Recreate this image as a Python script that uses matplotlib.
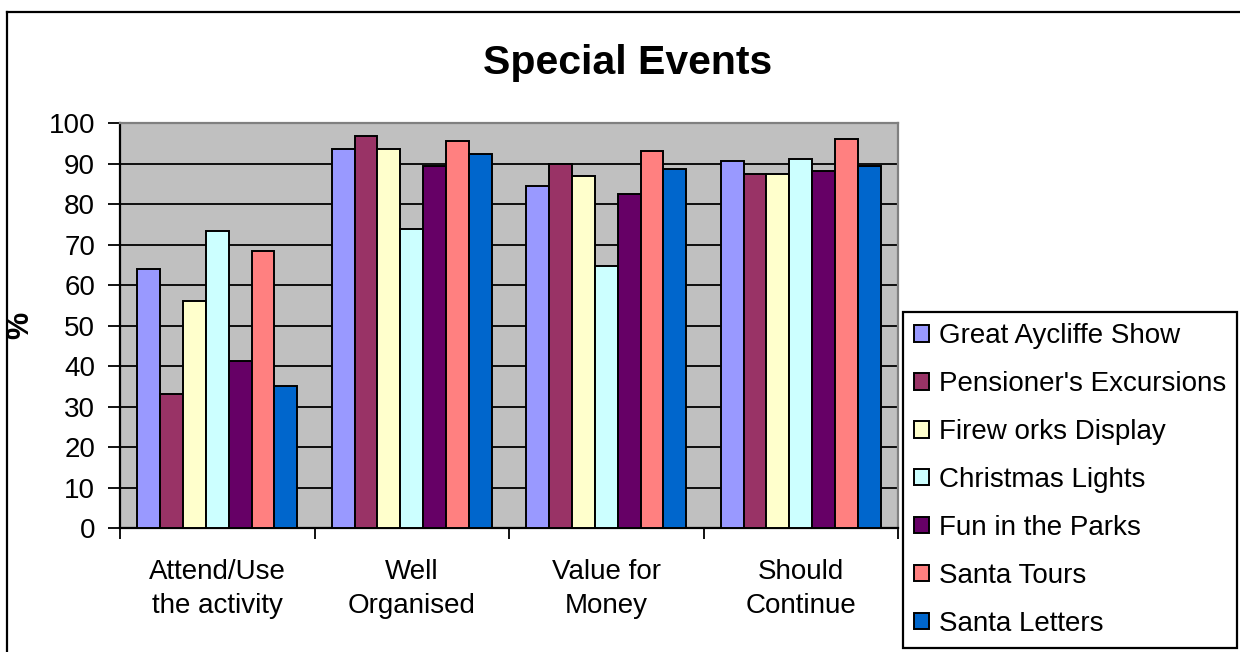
import matplotlib
matplotlib.use("Agg")
import matplotlib.pyplot as plt
import numpy as np
from matplotlib.lines import Line2D

plt.rcParams["font.family"] = ["Liberation Sans", "DejaVu Sans"]

categories = ["Attend/Use\nthe activity", "Well\nOrganised", "Value for\nMoney", "Should\nContinue"]
events = [
    "Great Aycliffe Show",
    "Pensioner's Excursions",
    "Firew orks Display",
    "Christmas Lights",
    "Fun in the Parks",
    "Santa Tours",
    "Santa Letters",
]
great_aycliffe = [64, 93.6, 84.4, 90.7]
pensioners = [33, 96.9, 90.0, 87.5]
fireworks = [56, 93.6, 86.9, 87.5]
christmas_lights = [73.4, 74.0, 64.7, 91.2]
fun_in_parks = [41.2, 89.5, 82.6, 88.1]
santa_tours = [68.5, 95.6, 93.1, 96.2]
santa_letters = [35, 92.5, 88.7, 89.4]
series = [great_aycliffe, pensioners, fireworks, christmas_lights,
          fun_in_parks, santa_tours, santa_letters]
colors = ["#9999FF", "#993366", "#FFFFCC", "#CCFFFF", "#660066", "#FF8080", "#0066CC"]

W, H = 1240, 652
fig = plt.figure(figsize=(W / 100, H / 100), dpi=100)

# chart-area frame (runs off the right and bottom edges)
fig.add_artist(Line2D([7 / W, 7 / W], [0, 1 - 12 / H], color="black", lw=1.6))
fig.add_artist(Line2D([7 / W, 1], [1 - 12 / H, 1 - 12 / H], color="black", lw=1.6))

ax = fig.add_axes([120 / W, 1 - 528 / H, 778 / W, (528 - 123.3) / H])
ax.set_facecolor("#C0C0C0")

x = np.arange(len(categories))
w = 1 / 8.5
for i, (vals, name, c) in enumerate(zip(series, events, colors)):
    ax.bar(x + (i - 3) * w, vals, width=w, color=c, edgecolor="black",
           linewidth=1.4, label=name, zorder=3)

ax.set_xlim(-0.5, 3.5)
ax.set_ylim(0, 100)
ax.set_yticks(np.arange(0, 101, 10))
ax.yaxis.grid(True, color="black", linewidth=1.3, zorder=1)
ax.set_axisbelow(True)
ax.tick_params(axis="y", direction="out", length=9, width=1.3, labelsize=20, pad=9)

ax.set_xticks(np.arange(-0.5, 3.6, 1))
ax.set_xticklabels([])
ax.tick_params(axis="x", which="major", direction="out", length=8, width=1.3)
ax.set_xticks(x, minor=True)
ax.set_xticklabels(categories, minor=True, fontsize=20, linespacing=1.4)
ax.tick_params(axis="x", which="minor", length=0, pad=22)

for side in ("left", "bottom"):
    ax.spines[side].set_color("black")
    ax.spines[side].set_linewidth(1.6)
for side in ("top", "right"):
    ax.spines[side].set_color("#808080")
    ax.spines[side].set_linewidth(1.6)

ax.set_ylabel("%", fontsize=22, fontweight="bold")
ax.yaxis.set_label_coords(-0.109, 0.5)

fig.text(628 / W, 1 - 63 / H, "Special Events", ha="center", va="center",
         fontsize=29.5, fontweight="bold")

leg = ax.legend(loc="upper left", bbox_to_anchor=(903 / W, 1 - 312 / H),
                bbox_transform=fig.transFigure, fontsize=20, frameon=True,
                fancybox=False, edgecolor="black", framealpha=1,
                handlelength=0.55, handleheight=0.55, handletextpad=0.35,
                labelspacing=0.79, borderpad=0.4, borderaxespad=0)
leg.get_frame().set_linewidth(1.6)

fig.savefig("out.png", dpi=100)
